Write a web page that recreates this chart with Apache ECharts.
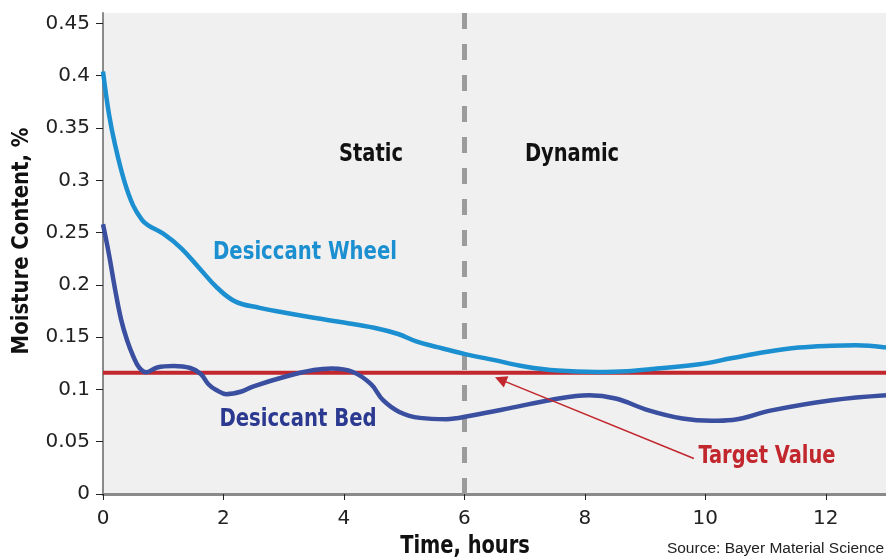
<!DOCTYPE html>
<html>
<head>
<meta charset="utf-8">
<script src="https://cdn.jsdelivr.net/npm/echarts@6/dist/echarts.min.js"></script>
<style>
html,body{margin:0;padding:0;background:#fff;}
#chart{width:886px;height:558px;}
</style>
</head>
<body>
<div id="chart"></div>
<script>
// ---- data ----
const wheelT = [0, 0.1, 0.2, 0.35, 0.5, 0.65, 0.75, 1.0, 1.3, 1.6, 1.9, 2.2, 2.6, 3.0, 3.5, 4.0, 4.5, 4.9, 5.2, 5.55, 6.0, 6.5, 7.0, 7.55, 8.2, 8.7, 9.2, 9.9, 10.45, 11.0, 11.55, 12.1, 12.5, 13.0];
const wheelV = [0.404, 0.363, 0.334, 0.300, 0.276, 0.262, 0.257, 0.249, 0.235, 0.216, 0.197, 0.184, 0.178, 0.1735, 0.1685, 0.164, 0.159, 0.153, 0.146, 0.1405, 0.134, 0.128, 0.122, 0.118, 0.1167, 0.1174, 0.12, 0.124, 0.130, 0.1358, 0.140, 0.1418, 0.1422, 0.140];
const bedT = [0, 0.1, 0.2, 0.3, 0.4, 0.5, 0.6, 0.72, 0.9, 1.17, 1.45, 1.62, 1.75, 1.88, 2.05, 2.3, 2.5, 3.05, 3.5, 3.8, 4.15, 4.45, 4.65, 4.92, 5.26, 5.7, 6.1, 6.86, 7.41, 8.07, 8.51, 9.06, 9.62, 10.1, 10.45, 11.1, 12.1, 13.0];
const bedV = [0.258, 0.229, 0.196, 0.167, 0.147, 0.132, 0.121, 0.1165, 0.121, 0.1224, 0.1205, 0.115, 0.105, 0.0995, 0.0955, 0.098, 0.103, 0.1126, 0.1185, 0.12, 0.1167, 0.105, 0.0897, 0.0785, 0.0728, 0.0716, 0.0748, 0.0833, 0.0897, 0.0945, 0.0913, 0.080, 0.0722, 0.070, 0.0708, 0.080, 0.0897, 0.0945];
const targetValue = 0.116;
const phaseBoundary = 6;
const arrowFrom = [9.81, 0.034];
const arrowTo = [6.6, 0.1094];
const xTicks = [0, 2, 4, 6, 8, 10, 12];
const yTicks = [0, 0.05, 0.1, 0.15, 0.2, 0.25, 0.3, 0.35, 0.4, 0.45];
const yTickLabels = ['0', '0.05', '0.1', '0.15', '0.2', '0.25', '0.3', '0.35', '0.4', '0.45'];
const xRange = [0, 13];
const yRange = [0, 0.46];

const COND = '"Liberation Sans Narrow", "DejaVu Sans Condensed", "Liberation Sans", sans-serif';
const REG = '"DejaVu Sans", "Liberation Sans", sans-serif';
const SRC = '"Liberation Sans", Arial, sans-serif';

const chart = echarts.init(document.getElementById('chart'), null, {renderer: 'canvas'});

const pairs = (t, v) => t.map((x, i) => [x, v[i]]);

function label(text, x, y, color, size, sx, rot) {
  return {
    type: 'text', x: x, y: y, rotation: rot || 0, scaleX: sx, scaleY: 1,
    style: {text: text, fill: color, font: 'bold ' + size + 'px ' + COND, textAlign: 'center', textVerticalAlign: 'middle'}
  };
}

const option = {
  animation: false,
  grid: {left: 103, right: 0, top: 13, bottom: 64, show: true, backgroundColor: '#f0f0f0', borderWidth: 0},
  xAxis: {
    type: 'value', min: xRange[0], max: xRange[1], interval: 2,
    axisLine: {show: true, onZero: false, lineStyle: {color: '#8a8a8a', width: 3}},
    axisTick: {show: true, length: 6, customValues: xTicks, lineStyle: {color: '#222', width: 1}},
    axisLabel: {customValues: xTicks, margin: 15, fontFamily: REG, fontSize: 20, color: '#222'},
    splitLine: {show: false}
  },
  yAxis: {
    type: 'value', min: yRange[0], max: yRange[1], interval: 0.05,
    axisLine: {show: true, onZero: false, lineStyle: {color: '#8a8a8a', width: 2}},
    axisTick: {show: true, length: 7, customValues: yTicks, lineStyle: {color: '#222', width: 1}},
    axisLabel: {
      customValues: yTicks, margin: 13, fontFamily: REG, fontSize: 20, color: '#222',
      formatter: function (v) {
        let best = 0;
        for (let i = 0; i < yTicks.length; i++) if (Math.abs(yTicks[i] - v) < Math.abs(yTicks[best] - v)) best = i;
        return yTickLabels[best];
      }
    },
    splitLine: {show: false}
  },
  series: [
    {
      name: 'Target Value', type: 'line', data: [[xRange[0], targetValue], [xRange[1], targetValue]],
      symbol: 'none', lineStyle: {color: '#c1272d', width: 4}, z: 2,
      markLine: {
        silent: true, animation: false,
        data: [
          [{coord: arrowFrom, symbol: 'none'}, {coord: arrowTo, symbol: 'triangle', symbolSize: 12}]
        ],
        lineStyle: {color: '#c1272d', width: 1.5, type: 'solid'},
        label: {show: false}
      }
    },
    {
      name: 'Desiccant Wheel', type: 'line', data: pairs(wheelT, wheelV), smooth: 0.4,
      symbol: 'none', lineStyle: {color: '#1b8fd0', width: 4.5}, z: 3
    },
    {
      name: 'Desiccant Bed', type: 'line', data: pairs(bedT, bedV), smooth: 0.4,
      symbol: 'none', lineStyle: {color: '#3a4f9f', width: 4.5}, z: 3,
      markLine: {
        silent: true, symbol: 'none', animation: false,
        data: [{xAxis: phaseBoundary}],
        lineStyle: {color: '#9b9b9b', width: 5, type: [16, 15]},
        label: {show: false}, z: 1
      }
    }
  ],
  graphic: [
    label('Static', 371, 155, '#111', 24, 0.9),
    label('Dynamic', 572, 155, '#111', 24, 0.9),
    label('Desiccant Wheel', 305, 253, '#1b8fd0', 24, 0.91),
    label('Desiccant Bed', 298, 420, '#2b3990', 24, 0.91),
    label('Target Value', 767, 457, '#c1272d', 24, 0.9),
    label('Time, hours', 465, 547, '#111', 24, 0.9),
    label('Moisture Content, %', 22, 241, '#111', 23, 0.95, Math.PI / 2),
    {type: 'text', x: 884, y: 549, style: {text: 'Source: Bayer Material Science', fill: '#222', font: '15.5px ' + SRC, textAlign: 'right', textVerticalAlign: 'middle'}}
  ]
};
chart.setOption(option);
</script>
</body>
</html>
